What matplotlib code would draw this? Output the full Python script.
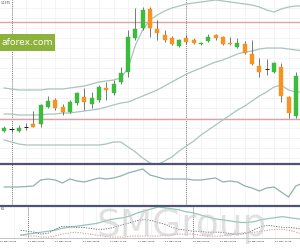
import matplotlib.pyplot as plt
from matplotlib.patches import Rectangle
from matplotlib.lines import Line2D

# hourly candles, 10 May 23:00 .. 12 May 16:00 (hour 0 = 11 May 00:00)
hours = list(range(-1, 41))
opens = [1.1247, 1.1249, 1.1247, 1.1251, 1.1254, 1.1254, 1.1271, 1.1278, 1.1271, 1.1266,
         1.1275, 1.1281, 1.1274, 1.1278, 1.1290, 1.1285, 1.1296, 1.1306, 1.1340, 1.1350,
         1.1369, 1.1349, 1.1343, 1.1340, 1.1332, 1.1340, 1.1338, 1.1334, 1.1337, 1.1343,
         1.1341, 1.1335, 1.1331, 1.1334, 1.1324, 1.1312, 1.1309, 1.1306, 1.1311, 1.1281,
         1.1262, 1.1304]
highs = [1.1252, 1.1251, 1.1253, 1.1255, 1.1267, 1.1274, 1.1282, 1.1280, 1.1274, 1.1278,
         1.1286, 1.1290, 1.1286, 1.1293, 1.1296, 1.1298, 1.1311, 1.1348, 1.1370, 1.1371,
         1.1371, 1.1358, 1.1348, 1.1342, 1.1339, 1.1343, 1.1340, 1.1336, 1.1344, 1.1344,
         1.1342, 1.1341, 1.1340, 1.1337, 1.1338, 1.1320, 1.1319, 1.1316, 1.1315, 1.1282,
         1.1306, 1.1318]
lows = [1.1246, 1.1246, 1.1246, 1.1248, 1.1251, 1.1251, 1.1270, 1.1268, 1.1263, 1.1265,
        1.1273, 1.1268, 1.1270, 1.1276, 1.1278, 1.1283, 1.1294, 1.1301, 1.1338, 1.1348,
        1.1341, 1.1338, 1.1336, 1.1333, 1.1331, 1.1334, 1.1334, 1.1333, 1.1336, 1.1338,
        1.1333, 1.1333, 1.1330, 1.1324, 1.1313, 1.1301, 1.1303, 1.1305, 1.1276, 1.1260,
        1.1260, 1.1302]
closes = [1.1250, 1.1249, 1.1250, 1.1251, 1.1251, 1.1273, 1.1277, 1.1270, 1.1266, 1.1276,
          1.1285, 1.1276, 1.1280, 1.1291, 1.1288, 1.1294, 1.1305, 1.1341, 1.1349, 1.1368,
          1.1350, 1.1345, 1.1338, 1.1334, 1.1338, 1.1336, 1.1335, 1.1335, 1.1341, 1.1340,
          1.1334, 1.1334, 1.1335, 1.1325, 1.1314, 1.1306, 1.1309, 1.1315, 1.1282, 1.1265,
          1.1302, 1.1315]

bb_upper = [1.1290, 1.1289, 1.1288, 1.1288, 1.1288, 1.1288, 1.1289, 1.1289, 1.1289, 1.1290,
            1.1291, 1.1292, 1.1294, 1.1296, 1.1297, 1.1298, 1.1300, 1.1310, 1.1333, 1.1348,
            1.1358, 1.1363, 1.1367, 1.1370, 1.1372, 1.1374, 1.1375, 1.1376, 1.1377, 1.1378,
            1.1377, 1.1376, 1.1375, 1.1374, 1.1373, 1.1371, 1.1368, 1.1366, 1.1369, 1.1371,
            1.1372, 1.1372]
bb_mid = [1.1264, 1.1264, 1.1263, 1.1263, 1.1263, 1.1263, 1.1264, 1.1264, 1.1265, 1.1265,
          1.1266, 1.1267, 1.1268, 1.1269, 1.1271, 1.1273, 1.1275, 1.1276, 1.1279, 1.1282,
          1.1285, 1.1288, 1.1292, 1.1296, 1.1300, 1.1304, 1.1307, 1.1310, 1.1313, 1.1316,
          1.1318, 1.1321, 1.1324, 1.1326, 1.1327, 1.1329, 1.1330, 1.1330, 1.1330, 1.1329,
          1.1328, 1.1327]
bb_lower = [1.1238, 1.1236, 1.1234, 1.1233, 1.1233, 1.1233, 1.1233, 1.1233, 1.1233, 1.1233,
            1.1233, 1.1233, 1.1233, 1.1233, 1.1234, 1.1236, 1.1236, 1.1231, 1.1226, 1.1220,
            1.1215, 1.1213, 1.1217, 1.1221, 1.1227, 1.1232, 1.1237, 1.1243, 1.1248, 1.1253,
            1.1258, 1.1263, 1.1268, 1.1272, 1.1277, 1.1282, 1.1286, 1.1291, 1.1293, 1.1288,
            1.1286, 1.1286]
levels = [1.1356, 1.1259]

atr = [18, 18, 18, 18.5, 19, 25, 26, 25, 22, 26, 24, 23, 25, 27, 26, 27, 29, 32, 34, 36,
       30, 28, 26, 26, 26, 26, 25, 25, 26, 27, 23, 24, 23, 19, 17, 14, 17, 18, 13, 8, 19, 22]

osc_main = [2, 3, 4, 5, 6, 7, 9, 10, 11, 12, 13, 14, 16, 18, 19, 20, 22, 25, 27, 29,
            31, 30, 29, 28, 26, 25, 23, 21, 19, 18, 17, 16, 15, 15, 16, 18, 19, 20, 21, 20, 19, 18]
osc_plus = [7, 6, 5, 3, 4, 8, 11, 11, 10, 10, 9, 8, 8, 9, 11, 13, 15, 17, 18, 17,
            15, 13, 10, 8, 7, 6, 6, 5, 5, 5, 4, 3, 3, 4, 8, 11, 12, 11, 10, 10, 9, 8]
osc_minus = [2, 1, 1, 0, 0, 1, 3, 4, 5, 4, 3, 2, 1, 0, 0, 0, 1, 1, 1, 1,
             1, 2, 2, 3, 3, 3, 2, 1, 1, 1, 2, 3, 4, 5, 5, 6, 7, 8, 8, 7, 5, 3]

tick_hours = [-4, 0, 4, 8, 12, 16, 20, 24, 28, 32, 36]
tick_labels = ['10 May 20:00', '11 May 00:00', '11 May 04:00', '11 May 08:00', '11 May 12:00',
               '11 May 16:00', '11 May 20:00', '12 May 00:00', '12 May 04:00', '12 May 08:00',
               '12 May 12:00']

green = '#3cbc3c'
orange = '#f7931e'
band = '#a9c4c0'
W, H = 300, 250
xlim = (-11.5 / 7.29, (300 - 11.5) / 7.29)

fig = plt.figure(figsize=(3, 2.5), dpi=100)
ax1 = fig.add_axes([0, 1 - 163 / H, 1, 163 / H])
ax2 = fig.add_axes([0, 1 - 205 / H, 1, 42 / H])
ax3 = fig.add_axes([0, 1 - 238 / H, 1, 33 / H])

for ax in (ax1, ax2, ax3):
    ax.set_xlim(xlim)
    for s in ax.spines.values():
        s.set_visible(False)
    ax.set_yticks([])
    ax.set_xticks([])
    for h in range(-2, 42, 2):
        ax.axvline(h, color='#f0f0f0', lw=0.5, zorder=0)
    for h in (0, 24):
        ax.axvline(h, color='#555555', lw=0.6, ls=(0, (1, 1.5)), zorder=1)

# main panel
ax1.set_ylim(1.1378 - 0.0163, 1.1378)
for p in range(0, 17):
    ax1.axhline(1.1220 + p * 0.0010, color='#f0f0f0', lw=0.5, zorder=0)
for lv in levels:
    ax1.axhline(lv, color='#d9a3ab', lw=1.0, zorder=1)
ax1.plot(hours, bb_upper, color=band, lw=0.9, zorder=2)
ax1.plot(hours, bb_mid, color=band, lw=0.9, zorder=2)
ax1.plot(hours, bb_lower, color=band, lw=0.9, zorder=2)

bw = 0.55
for h, o, hi, lo, c in zip(hours, opens, highs, lows, closes):
    ax1.vlines(h, lo, hi, color='#444444', lw=0.5, zorder=3)
    if abs(c - o) < 0.00005:
        ax1.hlines(o, h - bw / 2, h + bw / 2, color='#222222', lw=0.7, zorder=4)
        continue
    col = green if c > o else orange
    ax1.add_patch(Rectangle((h - bw / 2, min(o, c)), bw, abs(c - o), facecolor=col,
                            edgecolor=col, lw=0.3, zorder=4))

# second panel
ax2.set_ylim(0, 42)
ax2.plot(hours, atr, color='#8fb2ae', lw=0.9)

# third panel
ax3.set_ylim(-1, 33)
ax3.plot(hours, osc_main, color='#93c7be', lw=0.9)
ax3.plot(hours, osc_plus, color='#666666', lw=0.6, ls=(0, (1.5, 1.5)))
ax3.plot(hours, osc_minus, color='#d08a8a', lw=0.6, ls=(0, (1.5, 1.5)))
ax3.spines['bottom'].set_visible(True)
ax3.spines['bottom'].set_color('#bbbbbb')
ax3.spines['bottom'].set_linewidth(0.6)
ax3.set_xticks(tick_hours)
ax3.set_xticklabels(tick_labels, fontsize=1.7, color='#111111', ha='left')
ax3.tick_params(axis='x', length=0, pad=1.8)

# panel separators
for ypx in (164, 205.5):
    fig.add_artist(Line2D([0, 1], [1 - ypx / H, 1 - ypx / H], color='#505470', lw=1.6))

fig.text(11 / W, 1 - 3 / H, '1.1375', fontsize=2.1, color='#333333', ha='right', va='center')
fig.text(0.5 / W, 1 - 209 / H, '64', fontsize=2.1, color='#333333', ha='left', va='center')

# logo banner
fig.add_artist(Rectangle((0, 1 - 51 / H), 55 / W, 17 / H, facecolor='#8cb23c',
                         edgecolor='none', transform=fig.transFigure))
fig.text(1 / W, 1 - 42.5 / H, 'aforex.com', fontsize=6.6, color='white', ha='left', va='center')

# watermark
fig.text(97 / W, 1 - 236 / H, 'SMGroup', fontsize=27, color='#c8c8c8', alpha=0.55,
         ha='left', va='baseline')

fig.savefig('out.png', dpi=100)
